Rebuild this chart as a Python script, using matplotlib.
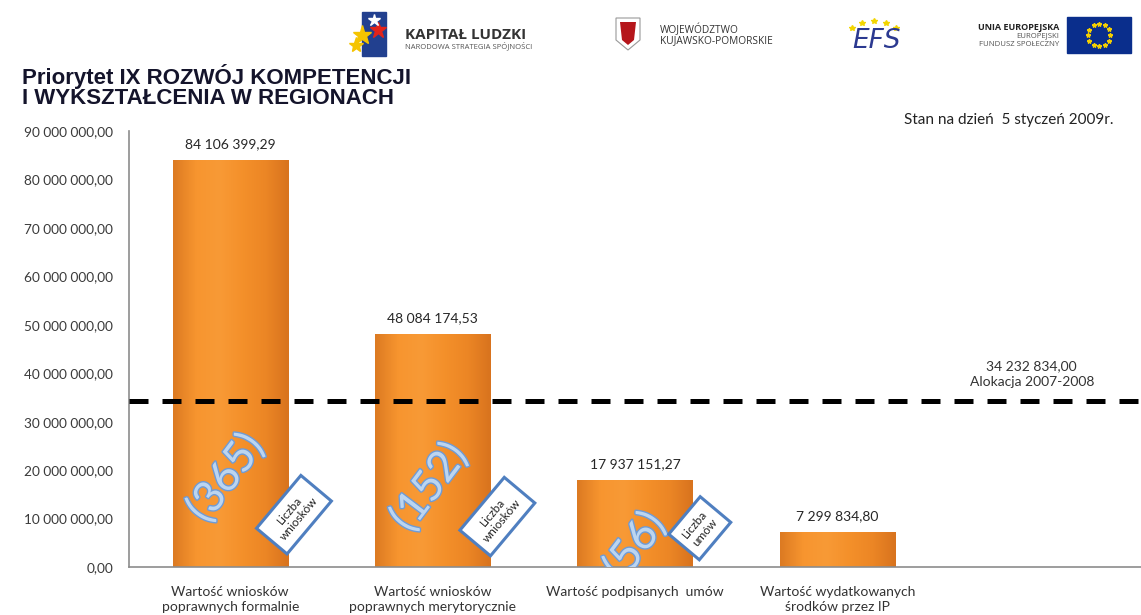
import numpy as np
import matplotlib
matplotlib.use("Agg")
import matplotlib.pyplot as plt
import matplotlib.patheffects as pe
from matplotlib.colors import LinearSegmentedColormap
from matplotlib.patches import Rectangle, Polygon

# ---------------- data ----------------
categories = ["Wartość wniosków\npoprawnych formalnie",
              "Wartość wniosków\npoprawnych merytorycznie",
              "Wartość podpisanych  umów",
              "Wartość wydatkowanych\nśrodków przez IP"]
values = [84106399.29, 48084174.53, 17937151.27, 7299834.80]
counts = ["(365)", "(152)", "(56)"]
count_labels = ["Liczba\nwniosków", "Liczba\nwniosków", "Liczba\numów"]
allocation = 34232834.00
allocation_label = "Alokacja 2007-2008"
yticks = [0, 10e6, 20e6, 30e6, 40e6, 50e6, 60e6, 70e6, 80e6, 90e6]
title = "Priorytet IX ROZWÓJ KOMPETENCJI\nI WYKSZTAŁCENIA W REGIONACH"
date_note = "Stan na dzień  5 styczeń 2009r."


def pl_fmt(v):
    return f"{v:,.2f}".replace(",", " ").replace(".", ",")


W, H = 1141, 615
fig = plt.figure(figsize=(W / 100, H / 100), dpi=100)
fig.patch.set_facecolor("white")


def fx(px):
    return px / W


def fy(py):
    return 1 - py / H


FONT = ["Lato", "DejaVu Sans"]

ax = fig.add_axes([fx(129), fy(567), fx(1141) - fx(129), fy(131) - fy(567)])
ax.set_facecolor("none")

x = np.arange(len(categories))
bw = 0.57
bars = ax.bar(x, values, width=bw, color="#F28C28", zorder=2)

# gradient fill clipped to each bar
cmap = LinearSegmentedColormap.from_list(
    "barg", ["#DC7A22", "#F7952F", "#F89A36", "#F4902A", "#EC8625", "#D8731E"])
grad = np.linspace(0, 1, 256).reshape(1, -1)
for b in bars:
    im = ax.imshow(grad, cmap=cmap, aspect="auto",
                   extent=(b.get_x(), b.get_x() + b.get_width(), 0, b.get_height()),
                   zorder=2.1, interpolation="bicubic")
    im.set_clip_path(b)

ax.set_xlim(-0.5, 4.5)
ax.set_ylim(0, 90e6)

# allocation line
ax.axhline(allocation, color="black", lw=3.6, dashes=(3.8, 2.8), zorder=3,
           dash_capstyle="butt")
ax.text(3.96, allocation + 2.8e6, pl_fmt(allocation) + "\n" + allocation_label,
        ha="center", va="bottom", fontsize=10, color="#333333",
        family=FONT, linespacing=1.3)

# value labels
for xi, v in zip(x, values):
    ax.annotate(pl_fmt(v), (xi, v), xytext=(0, 7), textcoords="offset points",
                ha="center", va="bottom", fontsize=10, color="#262626",
                family=FONT)

# count annotations (rotated)
count_pos = [(-0.022, 18.4e6), (0.983, 16.5e6), (2.0, 4.3e6)]
for (cx, cy), c in zip(count_pos, counts):
    t = ax.text(cx, cy, c, rotation=53, ha="center", va="center",
                rotation_mode="anchor", fontsize=31, color="#BCD5F0",
                family=FONT, zorder=5, clip_on=True)
    t.set_path_effects([pe.withStroke(linewidth=2.0, foreground="#6E9BD6")])

box_pos = [(0.315, 10.8e6), (1.32, 10.4e6), (2.32, 8.0e6)]
for (bx, by), lab in zip(box_pos, count_labels):
    ax.text(bx, by, lab, rotation=50, ha="center", va="center",
            rotation_mode="anchor", fontsize=8.5, color="#222222",
            family=FONT, zorder=6, linespacing=1.15,
            bbox=dict(boxstyle="square,pad=0.7", fc="white", ec="#4F7FC0", lw=2.2),
            clip_on=False)

# axes styling
for s in ["top", "right"]:
    ax.spines[s].set_visible(False)
for s in ["left", "bottom"]:
    ax.spines[s].set_color("#8C8C8C")
    ax.spines[s].set_linewidth(1.2)
ax.spines["bottom"].set_zorder(4)
ax.set_yticks(yticks)
ax.set_yticklabels([pl_fmt(v) for v in yticks])
ax.set_xticks(x)
ax.set_xticklabels(categories)
ax.tick_params(axis="y", length=0, pad=11.5, labelsize=9.8, labelcolor="#3A3A3A")
ax.tick_params(axis="x", length=0, pad=14, labelsize=10, labelcolor="#333333")
for lab in ax.get_yticklabels() + ax.get_xticklabels():
    lab.set_family(FONT)
for lab in ax.get_xticklabels():
    lab.set_linespacing(1.3)

# title and notes
fig.text(fx(22), fy(64), title, ha="left", va="top", fontsize=16,
         fontweight="bold", color="#14142B", family=["Liberation Sans", "DejaVu Sans"],
         linespacing=0.95)
fig.text(fx(1113), fy(120), date_note, ha="right", va="center", fontsize=11,
         color="#222222", family=FONT)

# ---------------- logo header (approximations) ----------------
lax = fig.add_axes([0, 0, 1, 1], zorder=-1)
lax.set_xlim(0, W)
lax.set_ylim(H, 0)
lax.axis("off")

# Kapitał Ludzki
lax.add_patch(Rectangle((362, 12), 24, 44, color="#22408F"))
lax.plot([362], [35], marker="*", ms=14, color="#F5C400", zorder=3)
lax.plot([378], [30], marker="*", ms=12, color="#E2231A", zorder=3)
lax.plot([374], [20], marker="*", ms=9, color="white", zorder=3)
lax.plot([356], [45], marker="*", ms=11, color="#F5C400", zorder=3)
lax.text(405, 35, "KAPITAŁ LUDZKI", fontsize=11, fontweight="bold", color="#333333",
         va="center", ha="left", family=["Open Sans", "DejaVu Sans"])
lax.text(405, 46, "NARODOWA STRATEGIA SPÓJNOŚCI", fontsize=5.5, color="#555555",
         va="center", ha="left", family=["Open Sans", "DejaVu Sans"])

# Województwo
lax.add_patch(Polygon([(616, 18), (640, 18), (640, 40), (628, 50), (616, 40)],
                      closed=True, fc="white", ec="#999999", lw=0.8))
lax.add_patch(Polygon([(620, 22), (636, 22), (634, 40), (628, 45), (622, 40)],
                      closed=True, fc="#B5161B", ec="none"))
lax.text(660, 30, "WOJEWÓDZTWO", fontsize=7.3, color="#333333", va="center",
         ha="left", family=["Open Sans", "DejaVu Sans"])
lax.text(660, 41, "KUJAWSKO-POMORSKIE", fontsize=7.3, color="#333333", va="center",
         ha="left", family=["Open Sans", "DejaVu Sans"])

# EFS
for sx, sy in [(852, 28), (862, 23), (874, 21), (886, 23), (896, 28)]:
    lax.plot([sx], [sy], marker="*", ms=4, color="#F2D500")
lax.text(877, 41, "EFS", fontsize=19, style="italic", color="#2B3990",
         va="center", ha="center", family=["DejaVu Sans"])

# Unia Europejska
lax.text(1059, 27, "UNIA EUROPEJSKA", fontsize=6.5, fontweight="bold",
         color="#222222", va="center", ha="right", family=["Open Sans", "DejaVu Sans"])
lax.text(1059, 36, "EUROPEJSKI", fontsize=5.6, color="#555555", va="center",
         ha="right", family=["Open Sans", "DejaVu Sans"])
lax.text(1059, 44, "FUNDUSZ SPOŁECZNY", fontsize=5.6, color="#555555", va="center",
         ha="right", family=["Open Sans", "DejaVu Sans"])
lax.add_patch(Rectangle((1067, 17), 64, 36, color="#0A2E8C"))
ang = np.linspace(0, 2 * np.pi, 13)[:-1]
lax.plot(1099 + 11 * np.cos(ang), 35 + 11 * np.sin(ang), ls="none",
         marker="*", ms=3.2, color="#F5D000")

fig.savefig("out.png", dpi=100, facecolor="white")
